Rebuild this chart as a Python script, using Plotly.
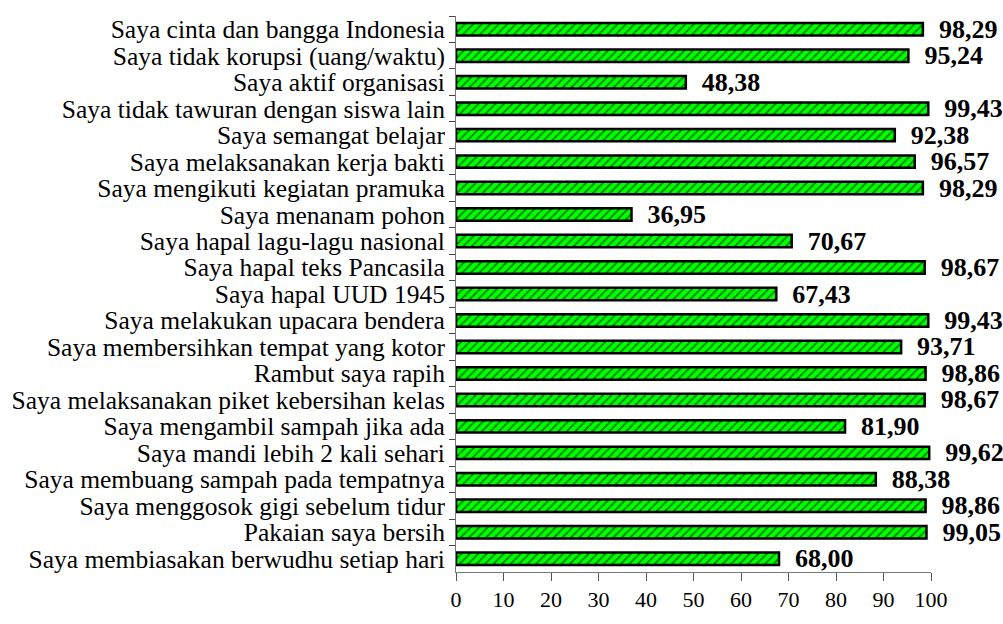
import plotly.graph_objects as go

categories = [
    "Saya cinta dan bangga Indonesia",
    "Saya tidak korupsi (uang/waktu)",
    "Saya aktif organisasi",
    "Saya tidak tawuran dengan siswa lain",
    "Saya semangat belajar",
    "Saya melaksanakan kerja bakti",
    "Saya mengikuti kegiatan pramuka",
    "Saya menanam pohon",
    "Saya hapal lagu-lagu nasional",
    "Saya hapal teks Pancasila",
    "Saya hapal UUD 1945",
    "Saya melakukan upacara bendera",
    "Saya membersihkan tempat yang kotor",
    "Rambut saya rapih",
    "Saya melaksanakan piket kebersihan kelas",
    "Saya mengambil sampah jika ada",
    "Saya mandi lebih 2 kali sehari",
    "Saya membuang sampah pada tempatnya",
    "Saya menggosok gigi sebelum tidur",
    "Pakaian saya bersih",
    "Saya membiasakan berwudhu setiap hari",
]
values = [98.29, 95.24, 48.38, 99.43, 92.38, 96.57, 98.29, 36.95, 70.67, 98.67,
          67.43, 99.43, 93.71, 98.86, 98.67, 81.90, 99.62, 88.38, 98.86, 99.05, 68.00]
x_ticks = [0, 10, 20, 30, 40, 50, 60, 70, 80, 90, 100]

labels = ["\u00a0\u00a0" + f"{v:.2f}".replace(".", ",") for v in values]

SERIF = "Liberation Serif, Times New Roman, serif"

fig = go.Figure(go.Bar(
    x=values, y=categories, orientation="h",
    width=0.47,
    marker=dict(color="#00ff00", line=dict(color="black", width=2.5),
                pattern=dict(shape="/", fgcolor="black", bgcolor="#00ff00", size=6, solidity=0.3)),
    text=labels, textposition="outside", cliponaxis=False, constraintext="none",
    textfont=dict(family=SERIF, size=26, color="black", weight="bold"),
    hoverinfo="skip",
))

fig.update_layout(
    width=1003, height=624,
    margin=dict(l=455, r=72, t=16, b=39),
    plot_bgcolor="white", paper_bgcolor="white",
    showlegend=False,
    font=dict(family=SERIF, size=22, color="black"),
    xaxis=dict(range=[0, 100], tickvals=x_ticks, showgrid=False, zeroline=False,
               showline=True, linecolor="#777", linewidth=1, ticks="outside",
               ticklen=8, tickcolor="#555", tickfont=dict(family=SERIF, size=22)),
    yaxis=dict(autorange="reversed", showgrid=False, showline=True, linecolor="#777",
               linewidth=1, ticks="outside", tickson="boundaries", ticklen=6,
               tickmode="linear", tick0=0, dtick=1, ticklabelstandoff=5,
               tickcolor="#444", tickfont=dict(family=SERIF, size=25.5)),
)

fig.write_html("out.html",
               config={"displayModeBar": False},
               post_script="document.body.style.margin='0';document.body.style.overflow='hidden';")
